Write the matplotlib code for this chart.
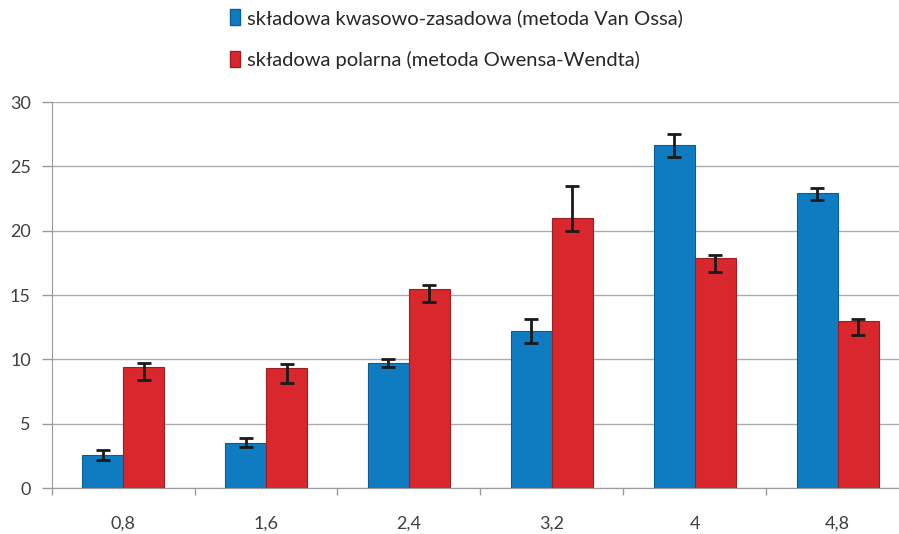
import numpy as np
import matplotlib.pyplot as plt
from matplotlib.patches import Patch

plt.rcParams['font.family'] = ['Lato', 'DejaVu Sans']

kategorie = ['0,8', '1,6', '2,4', '3,2', '4', '4,8']

# skladowa kwasowo-zasadowa (Van Oss)
kwas = np.array([2.6, 3.5, 9.7, 12.2, 26.7, 22.9])
kwas_dol = np.array([2.2, 3.15, 9.4, 11.3, 25.75, 22.35])
kwas_gora = np.array([2.95, 3.85, 10.0, 13.1, 27.5, 23.3])

# skladowa polarna (Owens-Wendt)
polar = np.array([9.4, 9.3, 15.5, 21.0, 17.85, 12.95])
polar_dol = np.array([8.4, 8.2, 14.45, 20.0, 16.8, 11.9])
polar_gora = np.array([9.75, 9.65, 15.75, 23.45, 18.15, 13.15])

etykiety = ['składowa kwasowo-zasadowa (metoda Van Ossa)',
            'składowa polarna (metoda Owensa-Wendta)']

niebieski = '#0f7cc2'
czerwony = '#d8282d'

fig = plt.figure(figsize=(8.99, 5.34), dpi=100)
ax = fig.add_axes([0.0575, 0.0861, 0.9537, 0.7228])

x = np.arange(len(kategorie))
w = 0.287

err_kw = dict(ecolor='#1a1a1a', elinewidth=2, capsize=5, capthick=2)
ax.bar(x - w / 2, kwas, w, color=niebieski, edgecolor='#0a5c94', linewidth=0.8,
       yerr=[kwas - kwas_dol, kwas_gora - kwas], error_kw=err_kw, zorder=3)
ax.bar(x + w / 2, polar, w, color=czerwony, edgecolor='#a01d21', linewidth=0.8,
       yerr=[polar - polar_dol, polar_gora - polar], error_kw=err_kw, zorder=3)

ax.set_xlim(-0.5, len(kategorie) - 0.5)
ax.set_ylim(0, 30)
ax.set_yticks(np.arange(0, 31, 5))
ax.set_xticks(x)
ax.set_xticklabels(kategorie)
ax.set_xticks(np.arange(-0.5, len(kategorie), 1), minor=True)
ax.tick_params(axis='x', which='major', length=0, pad=20, labelsize=13, labelcolor='#404040')
ax.tick_params(axis='x', which='minor', length=5, color='#9a9a9a', width=1)
ax.tick_params(axis='y', length=7, color='#9a9a9a', width=1, pad=8, labelsize=13,
               labelcolor='#404040')
ax.grid(axis='y', color='#ababab', linewidth=1, zorder=0)
for s in ['top', 'right']:
    ax.spines[s].set_visible(False)
for s in ['left', 'bottom']:
    ax.spines[s].set_color('#9a9a9a')

uchwyty = [Patch(facecolor=niebieski, edgecolor='#0a5c94'),
           Patch(facecolor=czerwony, edgecolor='#a01d21')]
fig.legend(uchwyty, etykiety, loc='upper left', bbox_to_anchor=(0.236, 1.017),
           frameon=False, handlelength=0.5, handleheight=0.8, handletextpad=0.35,
           labelspacing=1.2, fontsize=14.5, labelcolor='#262626')

fig.savefig('out.png', dpi=100)
